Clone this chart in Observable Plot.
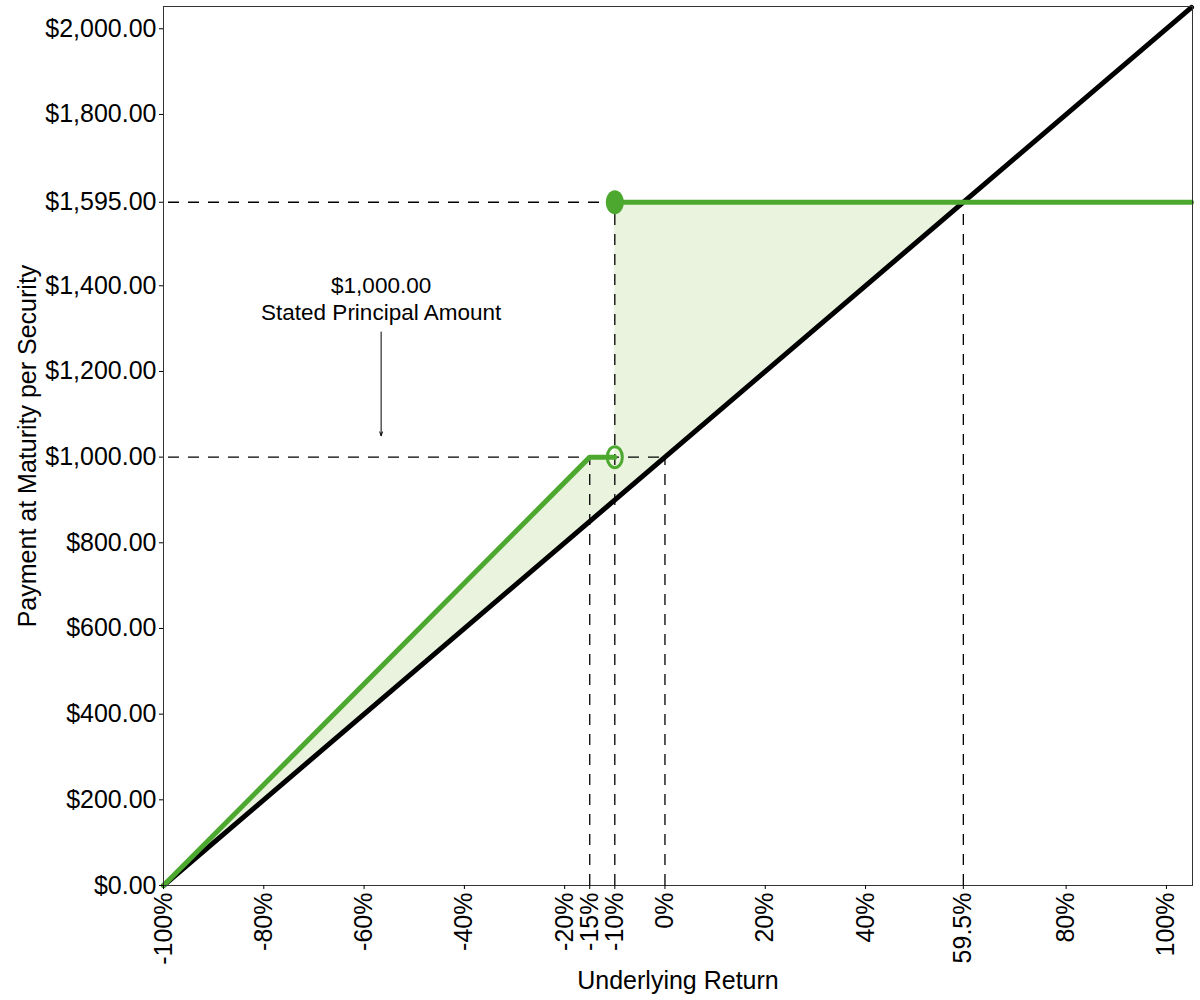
<!DOCTYPE html>
<html>
<head>
<meta charset="utf-8">
<script src="https://cdn.jsdelivr.net/npm/d3@7"></script>
<script src="https://cdn.jsdelivr.net/npm/@observablehq/plot@0.6"></script>
<style>
  html, body { margin: 0; padding: 0; background: #fff; }
  #chart svg { display: block; }
</style>
</head>
<body>
<div id="chart"></div>
<script>
// Tick values
const xTicks = [-100, -80, -60, -40, -20, -15, -10, 0, 20, 40, 59.5, 80, 100];
const yTicks = [0, 200, 400, 600, 800, 1000, 1200, 1400, 1595, 1800, 2000];

// Underlying (black) line: payment = 1000 * (1 + return)
const underlyingX = [-100, 105];
const underlyingY = [0, 2050];

// Security payoff (green), lower branch and upper branch
const lowerX = [-100, -15, -10];
const lowerY = [0, 1000, 1000];
const upperX = [-10, 105];
const upperY = [1595, 1595];

// Shaded region between payoff and underlying
const shadeX = [-100, -15, -10, -10, 59.5];
const shadeLow = [0, 850, 900, 900, 1595];
const shadeHigh = [0, 1000, 1000, 1595, 1595];

// Dashed reference lines
const hRefY = [1595, 1000];
const hRefXEnd = [-10, 0];
const vRefX = [-15, -10, 0, 59.5];
const vRefYEnd = [1000, 1595, 1000, 1595];

// Markers
const filledDot = {x: -10, y: 1595};
const openDot = {x: -10, y: 1000};

// Annotation
const annotX = -56.6;
const annotLines = "$1,000.00\nStated Principal Amount";
const annotY = 1372;
const arrowFrom = 1292;
const arrowTo = 1050;

const underlying = underlyingX.map((x, i) => ({x, y: underlyingY[i]}));
const lower = lowerX.map((x, i) => ({x, y: lowerY[i]}));
const upper = upperX.map((x, i) => ({x, y: upperY[i]}));
const shade = shadeX.map((x, i) => ({x, y1: shadeLow[i], y2: shadeHigh[i]}));
const hRefs = hRefY.map((y, i) => ({y, x2: hRefXEnd[i]}));
const vRefs = vRefX.map((x, i) => ({x, y2: vRefYEnd[i]}));

const ellipse = (rx, ry) => ({
  draw(ctx) {
    const k = 0.5523;
    ctx.moveTo(rx, 0);
    ctx.bezierCurveTo(rx, ry * k, rx * k, ry, 0, ry);
    ctx.bezierCurveTo(-rx * k, ry, -rx, ry * k, -rx, 0);
    ctx.bezierCurveTo(-rx, -ry * k, -rx * k, -ry, 0, -ry);
    ctx.bezierCurveTo(rx * k, -ry, rx, -ry * k, rx, 0);
    ctx.closePath();
  }
});

const green = "#4ca82e";
const shadeFill = "#e9f3de";
const dash = "11,9";

const chart = Plot.plot({
  width: 1200,
  height: 1000,
  marginLeft: 163,
  marginRight: 8,
  marginTop: 6,
  marginBottom: 115,
  style: {fontFamily: "'Liberation Sans', Arial, sans-serif", background: "#fff", color: "#000"},
  x: {domain: [-100, 105.2]},
  y: {domain: [0, 2052]},
  marks: [
    Plot.areaY(shade, {x: "x", y1: "y1", y2: "y2", fill: shadeFill, curve: "linear"}),
    Plot.ruleY(hRefs, {y: "y", x1: -100, x2: "x2", stroke: "#000", strokeWidth: 1.3, strokeDasharray: dash, strokeDashoffset: -5}),
    Plot.ruleX(vRefs, {x: "x", y1: 0, y2: "y2", stroke: "#000", strokeWidth: 1.3, strokeDasharray: dash}),
    Plot.line(underlying, {x: "x", y: "y", stroke: "#000", strokeWidth: 5}),
    Plot.line(lower, {x: "x", y: "y", stroke: green, strokeWidth: 5}),
    Plot.line(upper, {x: "x", y: "y", stroke: green, strokeWidth: 5}),
    Plot.dot([filledDot], {x: "x", y: "y", symbol: ellipse(9, 12), fill: green, stroke: "none"}),
    Plot.dot([openDot], {x: "x", y: "y", symbol: ellipse(7.5, 10.5), fill: "none", stroke: green, strokeWidth: 3}),
    Plot.arrow([{x: annotX}], {x1: "x", x2: "x", y1: arrowFrom, y2: arrowTo, stroke: "#000", strokeWidth: 1, headLength: 6, headAngle: 40}),
    Plot.text([{x: annotX}], {x: "x", y: annotY, text: () => annotLines, fontSize: 22.5, fill: "#000", lineHeight: 1.2}),
    Plot.frame({stroke: "#333", strokeWidth: 1}),
    Plot.axisX({
      ticks: xTicks,
      tickFormat: d => d + "%",
      tickRotate: -90,
      tickSize: 4,
      tickPadding: 3,
      fontSize: 25,
      label: "Underlying Return",
      labelAnchor: "center",
      labelArrow: "none",
      labelOffset: 103
    }),
    Plot.axisY({
      ticks: yTicks,
      tickFormat: d3.format("$,.2f"),
      tickSize: 4,
      tickPadding: 3,
      fontSize: 25,
      label: "Payment at Maturity per Security",
      labelAnchor: "center",
      labelArrow: "none",
      labelOffset: 145
    })
  ]
});

document.getElementById("chart").appendChild(chart);
</script>
</body>
</html>
